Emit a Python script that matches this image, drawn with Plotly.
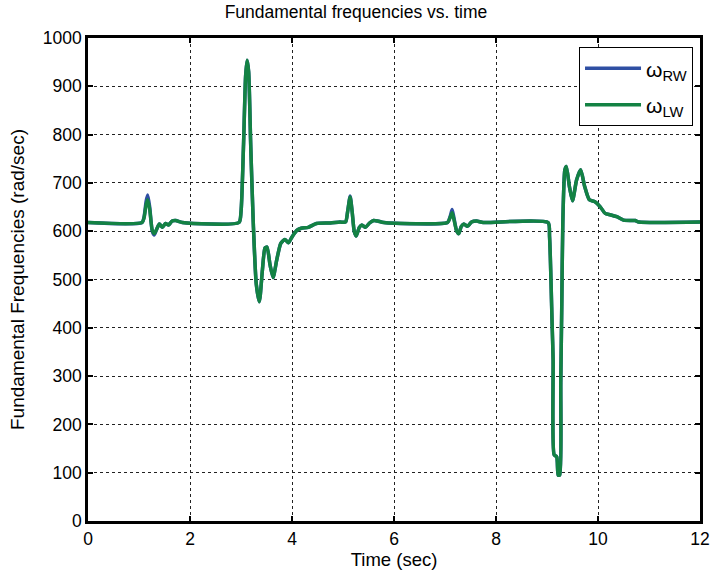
import plotly.graph_objects as go

time_s = [0, 1.06, 1.10, 1.14, 1.17, 1.21, 1.26, 1.30, 1.35, 1.40, 1.46, 1.52, 1.58, 1.65, 1.72, 1.85,
          2.96, 3.00, 3.05, 3.09, 3.12, 3.15, 3.19, 3.24, 3.30, 3.36, 3.42, 3.47, 3.51, 3.57, 3.63, 3.70,
          3.78, 3.86, 3.93, 4.00, 4.10, 4.18, 4.32, 4.48, 4.75, 4.94,
          5.05, 5.09, 5.14, 5.18, 5.22, 5.26, 5.32, 5.37, 5.44, 5.52, 5.60, 5.68, 5.80,
          7.05, 7.10, 7.14, 7.18, 7.23, 7.27, 7.32, 7.37, 7.44, 7.52, 7.62, 7.75,
          9.02, 9.05, 9.10, 9.12, 9.14, 9.19, 9.22, 9.25, 9.27, 9.29, 9.31, 9.35, 9.38, 9.44, 9.50,
          9.58, 9.66, 9.74, 9.83, 9.94, 10.04, 10.14, 10.24, 10.37, 10.5, 10.73, 10.8, 12]

omega_rw = [618, 618, 630, 662, 675, 650, 600, 592, 605, 615, 608, 616, 613, 621, 622, 618,
            618, 640, 780, 920, 954, 930, 780, 619, 490, 454, 520, 565, 567, 530, 504, 540,
            575, 583, 576, 588, 602, 606, 608, 616, 617, 619,
            619, 640, 673, 640, 600, 590, 608, 613, 608, 617, 622, 621, 618,
            618, 630, 645, 625, 600, 595, 610, 615, 610, 619, 621, 618,
            618, 589, 409, 333, 137, 133, 95, 95, 286, 450, 617, 727, 734, 692, 663,
            706, 727, 692, 665, 661, 651, 637, 634, 630, 623, 622, 619, 619]

omega_lw = [618, 618, 628, 655, 665, 645, 602, 595, 605, 615, 608, 616, 613, 621, 622, 618,
            618, 640, 780, 920, 954, 930, 780, 619, 490, 454, 520, 565, 567, 530, 504, 540,
            575, 583, 576, 588, 602, 606, 608, 616, 617, 619,
            619, 640, 671, 640, 600, 590, 608, 613, 608, 617, 622, 621, 618,
            618, 628, 638, 622, 600, 595, 610, 615, 610, 619, 621, 618,
            618, 589, 409, 333, 137, 133, 95, 95, 286, 450, 617, 727, 734, 692, 663,
            706, 727, 692, 665, 661, 651, 637, 634, 630, 623, 622, 619, 619]

x_ticks = [0, 2, 4, 6, 8, 10, 12]
y_ticks = [0, 100, 200, 300, 400, 500, 600, 700, 800, 900, 1000]

font = "Liberation Sans, Arial, sans-serif"

fig = go.Figure()
fig.add_trace(go.Scatter(x=time_s, y=omega_rw, mode="lines", name="ω<sub>RW</sub>",
                         legendgroup="rw",
                         line=dict(color="#2f4fa3", width=3.5, shape="spline", smoothing=0.6)))
fig.add_trace(go.Scatter(x=time_s, y=omega_lw, mode="lines", name="ω<sub>LW</sub>",
                         legendgroup="lw",
                         line=dict(color="#138243", width=3.5, shape="spline", smoothing=0.6)))

axis_common = dict(showline=True, linecolor="black", linewidth=2.5, mirror="allticks",
                   ticks="inside", ticklen=5, tickwidth=1.5, tickcolor="black",
                   showgrid=True, gridcolor="#222222", griddash="3px,3px", gridwidth=1,
                   zeroline=False, automargin=False,
                   tickfont=dict(size=17.5, color="black", family=font))

fig.update_layout(
    width=712, height=577,
    margin=dict(l=88, r=12, t=38, b=56),
    paper_bgcolor="white", plot_bgcolor="white",
    title=dict(text="Fundamental frequencies vs. time", x=0.5, xanchor="center",
               y=0.99, yanchor="top", font=dict(size=17.5, color="black", family=font)),
    xaxis=dict(range=[0, 12], tickvals=x_ticks,
               title=dict(text="Time (sec)", font=dict(size=18.5, color="black", family=font), standoff=6),
               **axis_common),
    yaxis=dict(range=[0, 1000], tickvals=y_ticks,
               title=dict(text="Fundamental Frequencies (rad/sec)", font=dict(size=19, color="black", family=font), standoff=14),
               **axis_common),
    legend=dict(x=0.9886, y=0.981, xanchor="right", yanchor="top",
                bgcolor="white", bordercolor="black", borderwidth=1,
                font=dict(size=21, color="black", family=font),
                itemwidth=56, tracegroupgap=6),
    showlegend=True,
)

fig.write_html("out.html")
